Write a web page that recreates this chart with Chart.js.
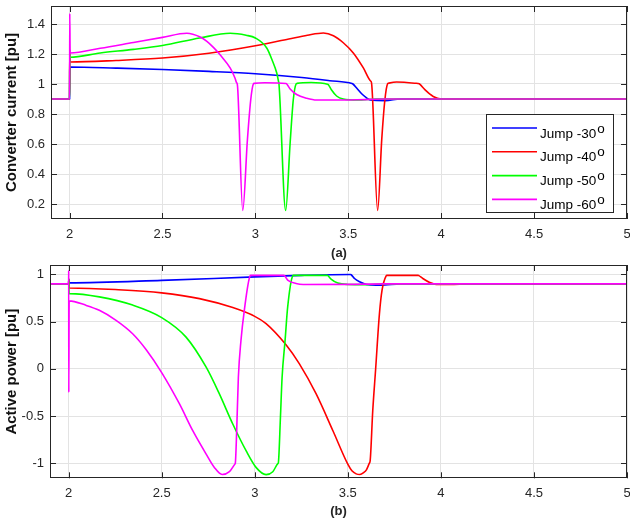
<!DOCTYPE html>
<html>
<head>
<meta charset="utf-8">
<script src="https://cdn.jsdelivr.net/npm/chart.js@4.4.1/dist/chart.umd.min.js"></script>
<style>
  body { margin: 0; background: #fff; }
  canvas { position: absolute; left: 0; }
  #currentChart { top: 0; }
  #powerChart { top: 262px; }
</style>
</head>
<body>
<canvas id="currentChart" width="630" height="262"></canvas>
<canvas id="powerChart" width="630" height="257"></canvas>
<script>
// series names and shared ticks
const jumpLabels = ["Jump -30", "Jump -40", "Jump -50", "Jump -60"]
const xTicks = [2, 2.5, 3, 3.5, 4, 4.5, 5]
const currentTicks = [0.2, 0.4, 0.6, 0.8, 1, 1.2, 1.4]
const powerTicks = [-1, -0.5, 0, 0.5, 1]

// converter current [pu], [time, value]
const current30 = [[1.9,0.9],[2,0.9],[2.001,1.10],[2.003,1.113],[2.25,1.106],[2.5,1.097],[2.75,1.084],[3,1.068],[3.25,1.043],[3.4,1.022],[3.52,1.003],[3.525,1.0],[3.545,0.973],[3.572,0.935],[3.6,0.906],[3.617,0.893],[3.7,0.889],[3.78,0.9],[5,0.9]]
const current40 = [[1.9,0.9],[2,0.9],[2.001,1.229],[2.003,1.147],[2.25,1.157],[2.5,1.173],[2.75,1.205],[3,1.255],[3.18,1.3],[3.28,1.325],[3.366,1.34],[3.42,1.322],[3.473,1.275],[3.527,1.207],[3.581,1.107],[3.62,1.02],[3.625,1.008],[3.658,0.157],[3.68,0.629],[3.697,0.895],[3.712,1.002],[3.716,1.005],[3.76,1.013],[3.86,1.005],[3.882,1.001],[3.886,0.997],[3.912,0.962],[3.957,0.917],[4,0.9],[5,0.9]]
const current50 = [[1.9,0.9],[2,0.9],[2.001,1.2],[2.003,1.178],[2.165,1.207],[2.344,1.231],[2.5,1.257],[2.7,1.307],[2.864,1.338],[2.95,1.325],[3,1.307],[3.061,1.24],[3.09,1.16],[3.115,1.073],[3.124,1.02],[3.127,1.0],[3.163,0.157],[3.187,0.607],[3.204,0.895],[3.219,1.0],[3.224,1.004],[3.3,1.01],[3.388,0.999],[3.393,0.995],[3.41,0.96],[3.437,0.92],[3.473,0.9],[3.55,0.893],[3.65,0.9],[5,0.9]]
const current60 = [[1.9,0.9],[2,0.9],[2.001,1.469],[2.003,1.207],[2.165,1.238],[2.344,1.277],[2.5,1.311],[2.631,1.338],[2.703,1.313],[2.739,1.284],[2.774,1.244],[2.81,1.195],[2.864,1.107],[2.89,1.04],[2.899,1.008],[2.903,0.996],[2.932,0.157],[2.957,0.627],[2.975,0.895],[2.989,1.0],[2.994,1.004],[3.05,1.008],[3.165,1.003],[3.169,1.0],[3.187,0.967],[3.222,0.93],[3.276,0.905],[3.33,0.893],[3.55,0.895],[3.7,0.9],[5,0.9]]

// active power [pu], [time, value]
const power30 = [[1.9,0.9],[2,0.9],[2.001,0.95],[2.003,0.911],[2.5,0.937],[3,0.974],[3.25,0.99],[3.514,0.999],[3.518,0.997],[3.536,0.957],[3.563,0.922],[3.6,0.894],[3.65,0.886],[3.7,0.888],[3.78,0.9],[5,0.9]]
const power40 = [[1.9,0.9],[2,0.9],[2.001,0.95],[2.003,0.858],[2.006,0.857],[2.25,0.84],[2.5,0.805],[2.703,0.744],[2.882,0.649],[3,0.556],[3.061,0.479],[3.169,0.252],[3.24,0.053],[3.33,-0.266],[3.42,-0.656],[3.5,-1.01],[3.522,-1.08],[3.545,-1.113],[3.565,-1.12],[3.585,-1.1],[3.6,-1.07],[3.616,-1.0],[3.62,-0.976],[3.634,-0.444],[3.649,-0.018],[3.67,0.585],[3.684,0.833],[3.706,0.985],[3.71,0.99],[3.8,0.99],[3.878,0.99],[3.882,0.987],[3.903,0.957],[3.94,0.915],[3.975,0.894],[4.05,0.893],[4.15,0.9],[5,0.9]]
const power50 = [[1.9,0.9],[2,0.9],[2.001,0.95],[2.003,0.798],[2.006,0.797],[2.165,0.762],[2.344,0.675],[2.5,0.543],[2.631,0.336],[2.739,0.017],[2.81,-0.266],[2.882,-0.585],[2.954,-0.87],[3.008,-1.047],[3.061,-1.121],[3.097,-1.09],[3.124,-1.005],[3.127,-0.993],[3.138,-0.515],[3.147,-0.089],[3.163,0.301],[3.177,0.656],[3.204,0.985],[3.208,0.99],[3.3,0.99],[3.389,0.99],[3.393,0.987],[3.41,0.95],[3.446,0.908],[3.5,0.894],[3.6,0.892],[3.7,0.9],[5,0.9]]
const power60 = [[1.9,0.9],[2,0.9],[2.0005,1.04],[2.001,-0.25],[2.003,0.72],[2.093,0.673],[2.165,0.62],[2.255,0.514],[2.344,0.372],[2.416,0.205],[2.5,-0.04],[2.595,-0.37],[2.667,-0.656],[2.739,-0.904],[2.783,-1.045],[2.825,-1.12],[2.864,-1.09],[2.893,-1.01],[2.896,-0.993],[2.903,-0.656],[2.912,-0.089],[2.926,0.3],[2.944,0.62],[2.975,0.985],[2.979,0.99],[3.1,0.99],[3.156,0.99],[3.16,0.987],[3.177,0.94],[3.222,0.904],[3.26,0.894],[3.5,0.895],[3.7,0.9],[5,0.9]]

const lineColors = ["#0000ff", "#ff0000", "#00ff00", "#ff00ff"]
const ink = "#262626"

Chart.defaults.font.family = '"Liberation Sans", Arial, sans-serif'
Chart.defaults.color = ink

// matlab style box with inward ticks
const frame = {
    id: "frame",
    afterDatasetsDraw(chart) {
        const { ctx, chartArea: a, scales: { x, y } } = chart
        ctx.save()
        ctx.strokeStyle = ink
        ctx.lineWidth = 1
        ctx.beginPath()
        x.ticks.forEach(t => {
            const px = Math.round(x.getPixelForValue(t.value)) + 0.5
            ctx.moveTo(px, a.bottom); ctx.lineTo(px, a.bottom - 6)
            ctx.moveTo(px, a.top); ctx.lineTo(px, a.top + 6)
        })
        y.ticks.forEach(t => {
            const py = Math.round(y.getPixelForValue(t.value)) + 0.5
            ctx.moveTo(a.left, py); ctx.lineTo(a.left + 6, py)
            ctx.moveTo(a.right, py); ctx.lineTo(a.right - 6, py)
        })
        ctx.stroke()
        ctx.strokeRect(Math.round(a.left) + 0.5, Math.round(a.top) + 0.5, Math.round(a.width) - 1, Math.round(a.height) - 1)
        ctx.restore()
    }
}

// legend box with superscript degree "o"
const jumpLegend = {
    id: "jumpLegend",
    afterDraw(chart) {
        const { ctx, chartArea: a } = chart
        const left = a.right - 141, top = a.top + 108, w = 127, h = 98
        ctx.save()
        ctx.fillStyle = "#fff"
        ctx.fillRect(left, top, w, h)
        ctx.strokeStyle = ink
        ctx.lineWidth = 1
        ctx.strokeRect(left + 0.5, top + 0.5, w, h)
        chart.data.datasets.forEach((ds, i) => {
            const rowY = top + 14 + i * 23.8
            ctx.strokeStyle = ds.borderColor
            ctx.lineWidth = 1.6
            ctx.beginPath()
            ctx.moveTo(left + 6, rowY); ctx.lineTo(left + 51, rowY)
            ctx.stroke()
            ctx.fillStyle = "#000"
            ctx.textBaseline = "alphabetic"
            ctx.font = '13.5px "Liberation Sans", Arial, sans-serif'
            ctx.fillText(ds.label, left + 54, rowY + 9.5)
            const tw = ctx.measureText(ds.label).width
            ctx.fillText("o", left + 54 + tw + 1, rowY + 4.5)
        })
        ctx.restore()
    }
}

function buildChart(id, series, yTicks, yMin, yMax, yTitle, tag, box, plugins) {
    return new Chart(document.getElementById(id), {
        type: "line",
        data: {
            datasets: series.map((s, i) => ({
                label: jumpLabels[i],
                data: s.map(([x, y]) => ({ x, y })),
                borderColor: lineColors[i],
                borderWidth: 1.6,
                borderJoinStyle: "round",
                pointRadius: 0,
                cubicInterpolationMode: "monotone",
                fill: false,
                order: 3 - i
            }))
        },
        options: {
            responsive: false,
            animation: false,
            devicePixelRatio: 1,
            layout: { padding: { top: box.top, right: 3, left: 0, bottom: 0 } },
            plugins: { legend: { display: false }, tooltip: { enabled: false } },
            scales: {
                x: {
                    type: "linear",
                    min: 1.9,
                    max: 5,
                    afterBuildTicks: s => { s.ticks = xTicks.map(v => ({ value: v })) },
                    afterFit: s => { s.height = box.xHeight; s.paddingLeft = 0; s.paddingRight = 0 },
                    grid: { color: "#e3e3e3", drawTicks: false },
                    border: { display: false },
                    ticks: { padding: box.tickPad, color: ink, font: { size: 13 }, maxRotation: 0, callback: v => String(v) },
                    title: { display: true, text: tag, color: ink, font: { size: 13, weight: "bold" }, padding: { top: 0, bottom: box.tagPad } }
                },
                y: {
                    min: yMin,
                    max: yMax,
                    afterBuildTicks: s => { s.ticks = yTicks.map(v => ({ value: v })) },
                    afterFit: s => { s.width = box.yWidth; s.paddingTop = 0; s.paddingBottom = 0 },
                    grid: { color: "#e3e3e3", drawTicks: false },
                    border: { display: false },
                    ticks: { padding: 6, color: ink, font: { size: 13 }, callback: v => String(v) },
                    title: { display: true, text: yTitle, color: "#111", font: { size: 15, weight: "bold" }, padding: { top: 3, bottom: 0 } }
                }
            }
        },
        plugins: plugins
    })
}

buildChart("currentChart", [current30, current40, current50, current60], currentTicks, 0.1, 1.52,
    "Converter current [pu]", "(a)", { top: 6, xHeight: 43, yWidth: 51, tickPad: 8, tagPad: 1 }, [frame, jumpLegend])

buildChart("powerChart", [power30, power40, power50, power60], powerTicks, -1.16, 1.1,
    "Active power [pu]", "(b)", { top: 3, xHeight: 40.7, yWidth: 50, tickPad: 7, tagPad: 0 }, [frame])
</script>
</body>
</html>
